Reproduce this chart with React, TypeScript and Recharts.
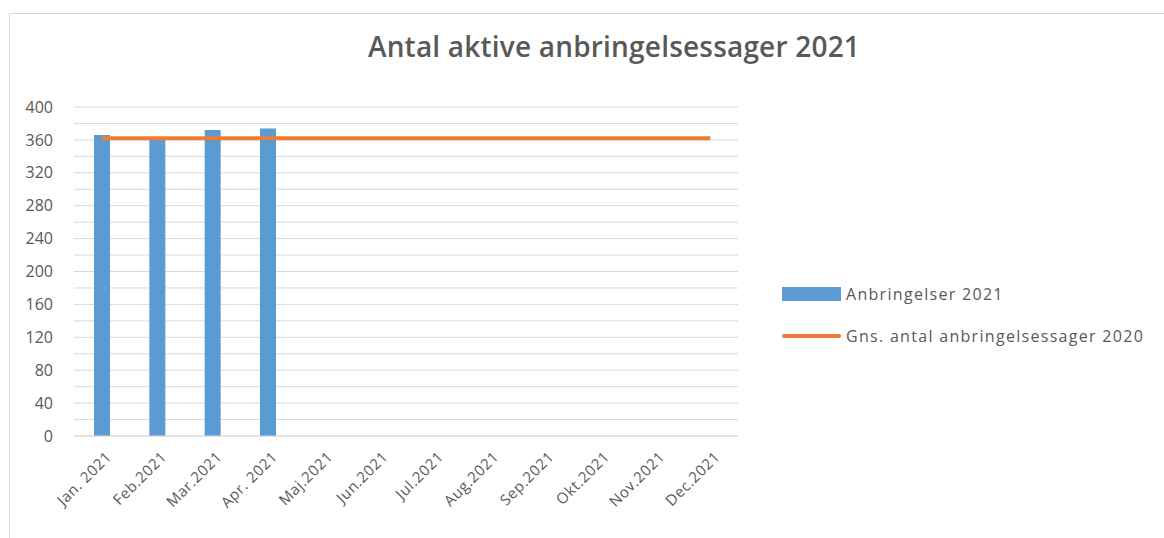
import React from 'react';
import { ComposedChart, Bar, Line, XAxis, YAxis, CartesianGrid } from 'recharts';

const months = ['Jan. 2021', 'Feb.2021', 'Mar.2021', 'Apr. 2021', 'Maj.2021', 'Jun.2021', 'Jul.2021', 'Aug.2021', 'Sep.2021', 'Okt.2021', 'Nov.2021', 'Dec.2021'];
const placements2021: (number | null)[] = [366, 361, 372, 374, null, null, null, null, null, null, null, null];
const avg2020: number[] = [362, 362, 362, 362, 362, 362, 362, 362, 362, 362, 362, 362];
const yTicks = [0, 20, 40, 60, 80, 100, 120, 140, 160, 180, 200, 220, 240, 260, 280, 300, 320, 340, 360, 380, 400];

const seriesNames = ['Anbringelser 2021', 'Gns. antal anbringelsessager 2020'];
const title = 'Antal aktive anbringelsessager 2021';

const data = months.map((m, i) => ({ month: m, a: placements2021[i], g: avg2020[i] }));

const FONT = '"Open Sans", "Liberation Sans", sans-serif';
const TEXT = '#595959';

const XTick = (props: any) => {
  const { x, y, payload } = props;
  return (
    <g transform={`translate(${x + 7},${y + 10})`}>
      <text
        x={0}
        y={0}
        textAnchor="end"
        transform="rotate(-45)"
        fontFamily={FONT}
        fontSize={15}
        letterSpacing={0.6}
        fill={TEXT}
        dy="0.35em"
      >
        {payload.value}
      </text>
    </g>
  );
};

export default function App() {
  return (
    <div style={{ position: 'absolute', left: 0, top: 0, width: 1164, height: 538, background: '#fff', fontFamily: FONT }}>
      <div style={{ position: 'absolute', left: 9, top: 13, right: 0, bottom: 0, borderTop: '1px solid #d9d9d9', borderLeft: '1px solid #d9d9d9' }} />
      <div style={{ position: 'absolute', left: 0, width: 1228, top: 26, textAlign: 'center', fontSize: 28, fontWeight: 600, color: TEXT, letterSpacing: 0.2, lineHeight: '40px' }}>
        {title}
      </div>
      <div style={{ position: 'absolute', left: 0, top: 0 }}>
        <ComposedChart width={1164} height={538} data={data} margin={{ top: 107, right: 426, bottom: 0, left: 0 }} barSize={16}>
          <CartesianGrid horizontal vertical={false} stroke="#d9d9d9" strokeWidth={1} />
          <XAxis
            dataKey="month"
            height={102}
            axisLine={{ stroke: '#d9d9d9' }}
            tickLine={false}
            interval={0}
            tick={<XTick />}
          />
          <YAxis
            width={74}
            domain={[0, 400]}
            ticks={yTicks}
            interval={0}
            axisLine={false}
            tickLine={false}
            tickSize={0}
            tickMargin={21}
            tickFormatter={(v: number) => (v % 40 === 0 ? String(v) : '')}
            tick={{ fill: TEXT, fontSize: 16, fontFamily: FONT }}
          />
          <Bar dataKey="a" name={seriesNames[0]} fill="#5b9bd5" isAnimationActive={false} />
          <Line dataKey="g" name={seriesNames[1]} type="linear" stroke="#ed7d31" strokeWidth={4} dot={false} activeDot={false} isAnimationActive={false} />
        </ComposedChart>
      </div>
      <div style={{ position: 'absolute', left: 782, top: 283, fontSize: 16, color: TEXT, letterSpacing: 1.3 }}>
        <div style={{ display: 'flex', alignItems: 'center', height: 22 }}>
          <div style={{ width: 59, height: 14, background: '#5b9bd5', marginRight: 5 }} />
          <span>{seriesNames[0]}</span>
        </div>
        <div style={{ display: 'flex', alignItems: 'center', height: 22, marginTop: 20 }}>
          <div style={{ width: 59, height: 4, background: '#ed7d31', marginRight: 5, borderRadius: 2 }} />
          <span>{seriesNames[1]}</span>
        </div>
      </div>
    </div>
  );
}
